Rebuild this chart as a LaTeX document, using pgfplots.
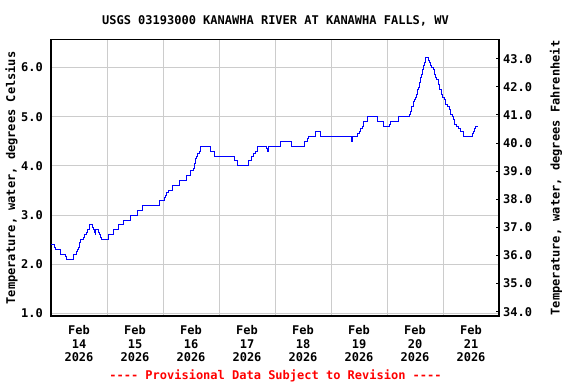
\documentclass[border=0pt]{standalone}
\usepackage{pgfplots}
\pgfplotsset{compat=1.18}
\usepackage{fontspec}
\setmonofont{DejaVu Sans Mono}
\newcommand{\lab}{\ttfamily\bfseries\fontsize{12bp}{13.3bp}\selectfont}
\definecolor{gridgray}{RGB}{204,204,204}
\definecolor{usgsblue}{RGB}{0,0,255}
\definecolor{usgsred}{RGB}{255,0,0}
\begin{document}
\begin{tikzpicture}[x=1bp,y=1bp]
\path[use as bounding box] (0,0) rectangle (576,384);
\begin{axis}[
  at={(51bp,68bp)}, anchor=south west, scale only axis,
  width=448bp, height=276.7bp,
  xmin=0, xmax=8, ymin=0.949, ymax=6.573,
  axis line style={line width=1.1bp, black},
  xtick={0.5,1.5,...,7.5},
  xticklabels={{Feb\\14\\2026},{Feb\\15\\2026},{Feb\\16\\2026},{Feb\\17\\2026},{Feb\\18\\2026},{Feb\\19\\2026},{Feb\\20\\2026},{Feb\\21\\2026}},
  xticklabel style={align=center, font=\lab, inner sep=0pt, anchor=north, yshift=-9.5bp},
  minor xtick={1,2,...,7},
  xminorgrids=true, xmajorgrids=false,
  ytick={1,2,...,6},
  yticklabels={1.0,2.0,3.0,4.0,5.0,6.0},
  yticklabel style={font=\lab, inner sep=0pt, anchor=east, xshift=-8bp},
  ymajorgrids=true,
  major tick length=0pt, minor tick length=0pt,
  major grid style={gridgray, line width=1bp},
  minor grid style={gridgray, line width=1bp},
  clip=true,
]
\addplot[const plot, usgsblue, line width=1bp] table {
x y
0.000 2.40
0.054 2.35
0.083 2.30
0.161 2.25
0.170 2.20
0.262 2.15
0.280 2.10
0.399 2.15
0.405 2.20
0.458 2.25
0.465 2.30
0.488 2.35
0.506 2.40
0.515 2.45
0.530 2.50
0.577 2.55
0.595 2.60
0.625 2.65
0.649 2.70
0.679 2.75
0.696 2.80
0.744 2.75
0.756 2.70
0.768 2.65
0.786 2.60
0.798 2.70
0.845 2.65
0.860 2.60
0.875 2.55
0.905 2.50
1.024 2.60
1.113 2.70
1.202 2.80
1.292 2.90
1.420 3.00
1.550 3.10
1.637 3.20
1.946 3.30
2.020 3.35
2.036 3.40
2.065 3.45
2.095 3.50
2.167 3.60
2.292 3.70
2.411 3.75
2.423 3.80
2.494 3.90
2.542 3.95
2.554 4.00
2.565 4.05
2.577 4.10
2.589 4.15
2.601 4.20
2.619 4.25
2.649 4.30
2.673 4.40
2.851 4.30
2.923 4.20
3.280 4.10
3.339 4.00
3.518 4.10
3.577 4.20
3.613 4.25
3.643 4.30
3.685 4.40
3.851 4.35
3.863 4.30
3.887 4.40
4.101 4.50
4.292 4.40
4.518 4.50
4.577 4.55
4.595 4.60
4.732 4.70
4.804 4.60
5.369 4.50
5.380 4.60
5.482 4.65
5.506 4.70
5.530 4.75
5.554 4.80
5.589 4.90
5.649 5.00
5.827 4.90
5.946 4.80
6.042 4.85
6.065 4.90
6.202 5.00
6.399 5.05
6.411 5.10
6.429 5.15
6.446 5.20
6.470 5.30
6.488 5.35
6.506 5.40
6.518 5.45
6.542 5.55
6.560 5.60
6.577 5.70
6.601 5.80
6.619 5.85
6.637 5.95
6.655 6.05
6.673 6.10
6.690 6.20
6.744 6.15
6.756 6.10
6.780 6.05
6.798 6.00
6.827 5.95
6.845 5.85
6.863 5.80
6.887 5.75
6.923 5.65
6.946 5.55
6.970 5.45
6.994 5.40
7.018 5.35
7.042 5.25
7.089 5.20
7.113 5.15
7.137 5.05
7.161 5.00
7.185 4.95
7.208 4.85
7.244 4.80
7.280 4.75
7.304 4.70
7.363 4.60
7.530 4.65
7.542 4.70
7.565 4.75
7.589 4.80
7.625 4.80
};
\end{axis}
\begin{axis}[
  at={(51bp,68bp)}, anchor=south west, scale only axis,
  width=448bp, height=276.7bp,
  xmin=0, xmax=8, ymin=33.847, ymax=43.69,
  hide x axis, axis y line*=right,
  y axis line style={line width=1.1bp, black},
  ytick={34,35,...,43},
  yticklabels={34.0,35.0,36.0,37.0,38.0,39.0,40.0,41.0,42.0,43.0},
  yticklabel style={font=\lab, inner sep=0pt, anchor=west, xshift=4bp},
  tick align=inside, major tick length=3bp,
  major tick style={black, line width=1bp},
]
\end{axis}
\node[font=\lab, anchor=base] at (275.5,359.6) {USGS 03193000 KANAWHA RIVER AT KANAWHA FALLS, WV};
\node[font=\lab, rotate=90] at (11.5,206) {Temperature, water, degrees Celsius};
\node[font=\lab, rotate=90] at (556,206) {Temperature, water, degrees Fahrenheit};
\node[font=\lab, anchor=base, text=usgsred] at (275.5,4.6) {---- Provisional Data Subject to Revision ----};
\end{tikzpicture}
\end{document}
